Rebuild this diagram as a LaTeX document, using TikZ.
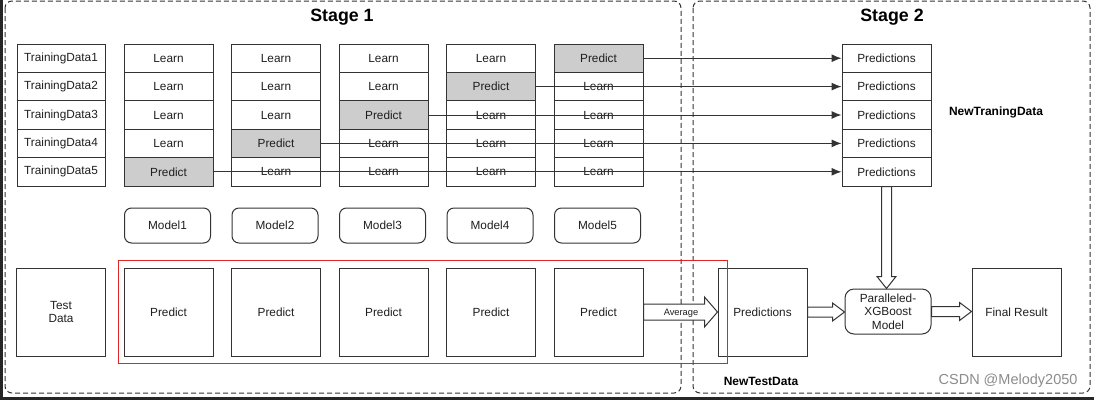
\documentclass[tikz,border=0pt]{standalone}
\usepackage{fontspec}
\setmainfont{Liberation Sans}
\usetikzlibrary{arrows.meta,calc}
\definecolor{linec}{HTML}{333333}
\definecolor{txt}{HTML}{1E1E1E}
\definecolor{graycell}{HTML}{CDCDCD}
\definecolor{dashc}{HTML}{333333}
\definecolor{redbox}{HTML}{E02424}
\newcommand\hfatarrow[5]{%
  \draw[fat] let \p1=(#1), \p2=(#2) in
    (\x1,\y1+#3) -- (\x2-#5,\y1+#3) -- (\x2-#5,\y1+#4) -- (\x2,\y1)
    -- (\x2-#5,\y1-#4) -- (\x2-#5,\y1-#3) -- (\x1,\y1-#3) -- cycle;}
\begin{document}
\begin{tikzpicture}[x=1pt,y=-1pt,
  basefont/.style={font=\fontsize{11.8}{13.5}\selectfont, text=txt},
  cell/.style={basefont, draw=linec, line width=1pt, minimum width=89pt, minimum height=28.4pt, inner sep=0pt},
  tdcell/.style={cell, minimum width=88pt},
  pcell/.style={cell, fill=graycell},
  bigbox/.style={basefont, draw=linec, line width=1pt, minimum width=89pt, minimum height=88pt, inner sep=0pt, align=center},
  model/.style={basefont, draw=linec, line width=1pt, rounded corners=7pt, minimum width=86pt, minimum height=35pt, inner sep=0pt, align=center},
  stage/.style={draw=dashc, dash pattern=on 5pt off 3pt, rounded corners=7pt, line width=1pt},
  title/.style={font=\fontsize{17.8}{20}\selectfont\bfseries, text=black},
  lbl/.style={font=\fontsize{12}{14}\selectfont\bfseries, text=black},
  fat/.style={draw=linec, fill=white, line width=1pt, line join=miter},
  link/.style={draw=linec, line width=1pt, -{Latex[length=10pt,width=8pt]}}
]
\useasboundingbox (0,0) rectangle (1094,400);
% screenshot edges
\fill[black!85] (0,0) rectangle (3,400);
\fill[black!85] (0,397) rectangle (1094,400);

% stage frames
\draw[stage] (5,1) rectangle (681,393);
\draw[stage] (693,1) rectangle (1090,393);
\node[title] (s1) at (342,17) {Stage 1};
\node[title] (s2) at (892,17) {Stage 2};

% training data grid
\foreach \r in {1,...,5} {
  \pgfmathsetmacro\yy{44+28.4*(\r-0.5)}
  \node[tdcell] (td\r) at (61,\yy) {TrainingData\r};
  \pgfmathtruncatemacro\pc{6-\r}
  \foreach \c in {1,...,5} {
    \pgfmathsetmacro\xx{168.5+107.5*(\c-1)}
    \ifnum\c=\pc
      \node[pcell] (c\c r\r) at (\xx,\yy) {Predict};
    \else
      \node[cell] (c\c r\r) at (\xx,\yy) {Learn};
    \fi
  }
  \node[cell] (pr\r) at (886.5,\yy) {Predictions};
}

% models
\foreach \c in {1,...,5} {
  \pgfmathsetmacro\xx{167.5+107.5*(\c-1)}
  \node[model] (m\c) at (\xx,225.5) {Model\c};
}

% test row
\node[bigbox] (test) at (61,312) {Test\\Data};
\foreach \c in {1,...,5} {
  \pgfmathsetmacro\xx{168.5+107.5*(\c-1)}
  \node[bigbox] (pp\c) at (\xx,312) {Predict};
}
\node[bigbox] (np) at (762.5,312) {Predictions};
\node[model, minimum height=45pt, rounded corners=9pt] (px) at (888,311.5) {Paralleled-\\XGBoost\\Model};
\node[bigbox] (fr) at (1016.5,312) {Final Result};

% red frame
\draw[redbox, line width=0.7pt] (118,260) rectangle (727,363);

% arrows from predict cells
\foreach \r in {1,...,5} {
  \pgfmathtruncatemacro\pc{6-\r}
  \draw[link] (c\pc r\r.east) -- (pr\r.west);
}

% fat arrows
\hfatarrow{pp5.east}{np.west}{8pt}{15pt}{13pt}
\node[font=\fontsize{9.3}{11}\selectfont, text=txt, inner sep=0pt] (avg) at (681,313) {Average};
\hfatarrow{np.east}{px.west}{5pt}{9pt}{12pt}
\hfatarrow{px.east}{fr.west}{5pt}{9pt}{12pt}
\draw[fat] let \p1=(pr5.south), \p2=(px.north) in
  (\x1-5pt,\y1) -- (\x1-5pt,\y2+12pt) -- (\x1-9.5pt,\y2+12pt) -- (\x1,\y2)
  -- (\x1+9.5pt,\y2+12pt) -- (\x1+5pt,\y2+12pt) -- (\x1+5pt,\y1) -- cycle;

% labels
\node[lbl] (ntd) at (996,112) {NewTraningData};
\node[lbl] (ntst) at (761,381) {NewTestData};
\node[font=\fontsize{14.5}{16}\selectfont, text=black!45, anchor=east] (wm) at (1081,381) {CSDN @Melody2050};
\end{tikzpicture}
\end{document}
